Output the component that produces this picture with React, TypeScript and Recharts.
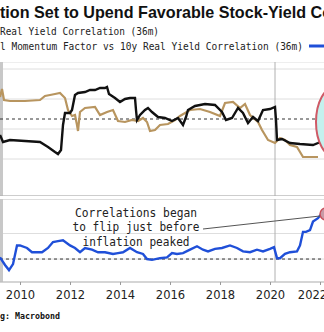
import { CartesianGrid, Line, LineChart, ReferenceArea, ReferenceDot, ReferenceLine, XAxis, YAxis } from "recharts";

// Bloomberg-style panel: stock-yield correlations, 2009-2022
const xDomain: [number, number] = [2009.18, 2022.14];
const yearTicks = [2010, 2012, 2014, 2016, 2018, 2020, 2022];

const blackYears = [
  2009.18, 2009.3, 2009.58, 2010.18, 2010.78, 2011.1, 2011.38, 2011.5, 2011.62, 2011.7, 2011.78, 2011.98,
  2012.06, 2012.18, 2012.3, 2012.58, 2012.78, 2012.98, 2013.18, 2013.38, 2013.46, 2013.54, 2013.66, 2013.78,
  2013.98, 2014.18, 2014.38, 2014.58, 2014.62, 2014.66, 2014.78, 2014.98, 2015.1, 2015.26, 2015.5, 2015.78,
  2016.06, 2016.3, 2016.5, 2016.62, 2016.7, 2016.98, 2017.18, 2017.38, 2017.78, 2018.06, 2018.22, 2018.46,
  2018.7, 2018.9, 2019.1, 2019.3, 2019.5, 2019.7, 2019.98, 2020.18, 2020.22, 2020.26, 2020.46, 2020.78,
  2021.18, 2021.7, 2021.9, 2022.14,
];
const blackValues = [
  -0.16, -0.23, -0.21, -0.22, -0.23, -0.28, -0.33, -0.35, -0.31, -0.06, 0.06, 0.06,
  0.09, 0.24, 0.26, 0.27, 0.29, 0.29, 0.31, 0.31, 0.32, 0.25, 0.23, 0.21,
  0.17, 0.2, 0.21, 0.21, 0.09, -0.01, 0.04, 0.09, 0.11, 0.07, 0.02, 0.01,
  -0.02, 0.01, -0.06, 0.02, 0.09, 0.13, 0.14, 0.15, 0.14, 0.07, -0.01, 0.01,
  0.11, 0.06, -0.04, 0.02, -0.02, 0.09, 0.1, 0.12, -0.01, -0.21, -0.2, -0.24,
  -0.25, -0.26, -0.24, -0.21,
];

const tanYears = [
  2009.18, 2009.26, 2009.34, 2009.58, 2010.18, 2010.78, 2010.98, 2011.18, 2011.38, 2011.58, 2011.7, 2011.78,
  2011.9, 2012.06, 2012.18, 2012.26, 2012.3, 2012.38, 2012.58, 2012.98, 2013.18, 2013.46, 2013.7, 2013.9,
  2014.18, 2014.46, 2014.7, 2014.9, 2015.06, 2015.18, 2015.38, 2015.58, 2015.9, 2016.18, 2016.38, 2016.78,
  2017.18, 2017.58, 2017.98, 2018.18, 2018.5, 2018.78, 2018.98, 2019.18, 2019.5, 2019.66, 2019.9, 2020.18,
  2020.38, 2020.58, 2020.78, 2021.06, 2021.3, 2021.58, 2021.9,
];
const tanValues = [
  0.22, 0.3, 0.19, 0.18, 0.18, 0.19, 0.23, 0.24, 0.25, 0.26, 0.23, 0.21,
  0.09, 0.03, 0.04, -0.06, -0.12, 0.07, 0.11, 0.12, 0.04, 0.07, 0.09, -0.02,
  -0.03, -0.01, -0.02, 0.01, -0.03, -0.12, -0.11, -0.06, -0.05, -0.01, 0.03, 0.09,
  0.1, 0.07, 0.03, 0.16, 0.17, 0.11, 0.15, 0.04, -0.03, -0.11, -0.21, -0.24,
  -0.19, -0.21, -0.26, -0.28, -0.38, -0.38, -0.38,
];

const blueYears = [
  2009.18, 2009.38, 2009.54, 2009.7, 2009.86, 2009.98, 2010.26, 2010.46, 2010.86, 2011.1, 2011.3, 2011.5,
  2011.7, 2011.98, 2012.18, 2012.38, 2012.58, 2012.86, 2013.1, 2013.38, 2013.7, 2013.9, 2014.1, 2014.38,
  2014.66, 2014.9, 2015.06, 2015.26, 2015.58, 2015.86, 2016.06, 2016.26, 2016.5, 2016.78, 2017.06, 2017.3,
  2017.5, 2017.78, 2018.06, 2018.38, 2018.66, 2018.9, 2019.18, 2019.46, 2019.7, 2019.98, 2020.14, 2020.26,
  2020.38, 2020.58, 2020.78, 2021.06, 2021.18, 2021.3, 2021.42, 2021.58, 2021.7, 2021.9, 2022.06,
];
const blueValues = [
  0.02, -0.07, -0.13, -0.06, 0.16, 0.16, 0.13, 0.08, 0.08, 0.13, 0.2, 0.21,
  0.22, 0.16, 0.13, 0.08, 0.13, 0.11, 0.08, 0.08, 0.06, 0.07, 0.08, 0.13,
  0.08, 0.06, 0.0, -0.01, 0.01, 0.02, 0.07, 0.06, 0.07, 0.11, 0.15, 0.11,
  0.09, 0.12, 0.13, 0.16, 0.13, 0.09, 0.08, 0.11, 0.09, 0.12, 0.14, 0.01,
  0.01, 0.06, 0.08, 0.09, 0.16, 0.32, 0.32, 0.34, 0.44, 0.48, 0.54,
];

const topTicks = [-0.7, -0.6, -0.5, -0.4, -0.3, -0.2, -0.1, 0, 0.1, 0.2, 0.3, 0.4, 0.5];
const bottomTicks = [-0.2, -0.1, 0, 0.1, 0.2, 0.3, 0.4, 0.5, 0.6, 0.7];

const zip = (ts: number[], vs: number[]) => ts.map((t, i) => ({ t, v: vs[i] }));
const black = zip(blackYears, blackValues);
const tan = zip(tanYears, tanValues);
const blue = zip(blueYears, blueValues);

const mono = "'DejaVu Sans Mono', monospace";

const Ellipse = (props: any) => (
  <ellipse cx={props.cx} cy={props.cy} rx={19} ry={35} fill="#c4f1ee" stroke="#cf5a66" strokeWidth={2} />
);

export default function App() {
  return (
    <div style={{ position: "absolute", left: 0, top: 0, width: 324, height: 332, overflow: "hidden", background: "#fff" }}>
      <div style={{ position: "absolute", left: 0, top: 62 }}>
        <LineChart width={324} height={134} margin={{ top: 0, right: 0, bottom: 0, left: 0 }}>
          <XAxis type="number" dataKey="t" domain={xDomain} allowDataOverflow hide />
          <YAxis type="number" domain={[-0.77, 0.57]} ticks={topTicks} allowDataOverflow hide />
          <CartesianGrid vertical={false} stroke="#dedede" />
          <ReferenceArea x1={2009.18} x2={2009.3} fill="#c8c8c8" fillOpacity={1} stroke="none" />
          <ReferenceLine x={2020.18} stroke="#b0b0b0" strokeWidth={1} />
          <ReferenceLine y={0} stroke="#333" strokeDasharray="3 3" />
          <ReferenceLine y={-0.77} stroke="#aaa" />
          <Line data={tan} dataKey="v" stroke="#b8955f" strokeWidth={2.2} dot={false} isAnimationActive={false} />
          <Line data={black} dataKey="v" stroke="#111" strokeWidth={2.4} dot={false} isAnimationActive={false} />
          <ReferenceDot x={2022.58} y={-0.03} ifOverflow="visible" shape={Ellipse} />
        </LineChart>
      </div>
      <div style={{ position: "absolute", left: 0, top: 199 }}>
        <LineChart width={324} height={113} margin={{ top: 0, right: 0, bottom: 0, left: 0 }}>
          <XAxis
            type="number"
            dataKey="t"
            domain={xDomain}
            allowDataOverflow
            ticks={yearTicks}
            height={30}
            tickSize={3}
            tickMargin={6}
            axisLine={{ stroke: "#bbb" }}
            tickLine={{ stroke: "#999" }}
            tick={{ fontSize: 11.5, fill: "#222", fontFamily: "'DejaVu Sans', sans-serif" }}
          />
          <YAxis type="number" domain={[-0.27, 0.706]} ticks={bottomTicks} allowDataOverflow hide />
          <CartesianGrid vertical={false} stroke="#dedede" />
          <ReferenceArea x1={2009.18} x2={2009.3} fill="#c8c8c8" fillOpacity={1} stroke="none" />
          <ReferenceLine x={2020.18} stroke="#b0b0b0" strokeWidth={1} />
          <ReferenceLine y={0} stroke="#333" strokeDasharray="3 3" />
          <Line data={blue} dataKey="v" stroke="#1f4fd8" strokeWidth={2.4} dot={false} isAnimationActive={false} />
          <ReferenceDot x={2022.22} y={0.53} r={6} fill="#c79aa6" stroke="#c8505c" strokeWidth={1.5} ifOverflow="visible" />
        </LineChart>
      </div>
      <svg width={324} height={332} style={{ position: "absolute", left: 0, top: 0, pointerEvents: "none" }}>
        <text x={0} y={18} fontFamily="'Liberation Sans', Arial, sans-serif" fontWeight="bold" fontSize={16.5} fill="#111" textLength={332} lengthAdjust="spacingAndGlyphs">
          tion Set to Upend Favorable Stock-Yield Co
        </text>
        <text x={0} y={35} fontFamily={mono} fontSize={10} fill="#222" textLength={159} lengthAdjust="spacingAndGlyphs">
          Real Yield Correlation (36m)
        </text>
        <text x={0} y={50} fontFamily={mono} fontSize={10} fill="#222" textLength={303} lengthAdjust="spacingAndGlyphs">
          l Momentum Factor vs 10y Real Yield Correlation (36m)
        </text>
        <line x1={309} y1={46} x2={324} y2={46} stroke="#1f4fd8" strokeWidth={3} />
        <line x1={203} y1={229} x2={320} y2={216} stroke="#555" strokeWidth={1} />
        <g fontFamily={mono} fontSize={12} fill="#222" textAnchor="middle">
          <text x={136} y={217} textLength={122} lengthAdjust="spacingAndGlyphs">Correlations began</text>
          <text x={136} y={231} textLength={127} lengthAdjust="spacingAndGlyphs">to flip just before</text>
          <text x={136} y={246} textLength={107} lengthAdjust="spacingAndGlyphs">inflation peaked</text>
        </g>
        <text x={0} y={319} fontFamily={mono} fontWeight="bold" fontSize={8.5} fill="#111" textLength={60} lengthAdjust="spacingAndGlyphs">
          g: Macrobond
        </text>
      </svg>
    </div>
  );
}
